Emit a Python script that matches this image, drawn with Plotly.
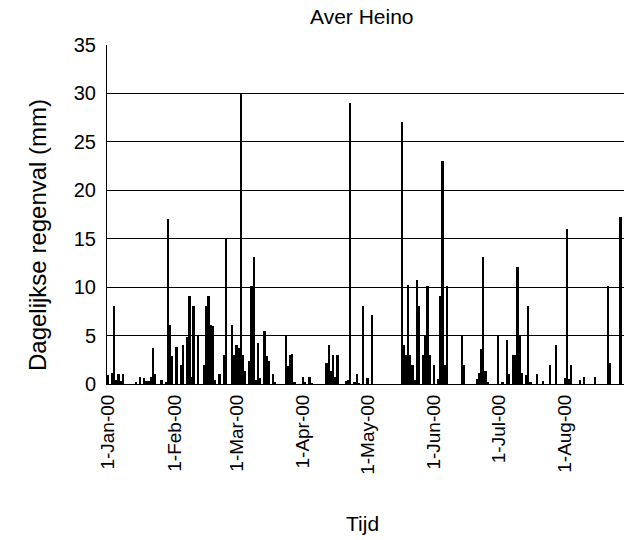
import plotly.graph_objects as go

# Daily rainfall at Heino, 2000 (mm)
dates = [
    "2000-01-01", "2000-01-03", "2000-01-04", "2000-01-05", "2000-01-06", "2000-01-07", "2000-01-08",
    "2000-01-14", "2000-01-16", "2000-01-18", "2000-01-19", "2000-01-20", "2000-01-21", "2000-01-22",
    "2000-01-23", "2000-01-26", "2000-01-28", "2000-01-29", "2000-01-30", "2000-01-31",
    "2000-02-02", "2000-02-04", "2000-02-05", "2000-02-07", "2000-02-08", "2000-02-09", "2000-02-10",
    "2000-02-12", "2000-02-15", "2000-02-16", "2000-02-17", "2000-02-18", "2000-02-19", "2000-02-20",
    "2000-02-22", "2000-02-24", "2000-02-25", "2000-02-28", "2000-02-29",
    "2000-03-01", "2000-03-02", "2000-03-03", "2000-03-04", "2000-03-05", "2000-03-07", "2000-03-08",
    "2000-03-09", "2000-03-10", "2000-03-11", "2000-03-12", "2000-03-14", "2000-03-15", "2000-03-16",
    "2000-03-18", "2000-03-19", "2000-03-24", "2000-03-25", "2000-03-26", "2000-03-27", "2000-03-28",
    "2000-04-01", "2000-04-02", "2000-04-04", "2000-04-05", "2000-04-12", "2000-04-13", "2000-04-14",
    "2000-04-15", "2000-04-16", "2000-04-17", "2000-04-21", "2000-04-22", "2000-04-23", "2000-04-25",
    "2000-04-26", "2000-04-27", "2000-04-29",
    "2000-05-01", "2000-05-03", "2000-05-17", "2000-05-18", "2000-05-19", "2000-05-20", "2000-05-21",
    "2000-05-22", "2000-05-23", "2000-05-24", "2000-05-25", "2000-05-27", "2000-05-28", "2000-05-29",
    "2000-05-30",
    "2000-06-01", "2000-06-03", "2000-06-04", "2000-06-05", "2000-06-06", "2000-06-07", "2000-06-14",
    "2000-06-15", "2000-06-21", "2000-06-22", "2000-06-23", "2000-06-24", "2000-06-25", "2000-06-26",
    "2000-07-01", "2000-07-03", "2000-07-05", "2000-07-06", "2000-07-08", "2000-07-09", "2000-07-10",
    "2000-07-11", "2000-07-12", "2000-07-14", "2000-07-15", "2000-07-16", "2000-07-19", "2000-07-22",
    "2000-07-25", "2000-07-28",
    "2000-08-01", "2000-08-02", "2000-08-03", "2000-08-04", "2000-08-08", "2000-08-10", "2000-08-15",
    "2000-08-21", "2000-08-22", "2000-08-27",
]
rain_mm = [
    0.9, 1.1, 8.1, 0.4, 1.0, 0.3, 1.0,
    0.25, 0.7, 0.65, 0.3, 0.3, 0.7, 3.7,
    1.0, 0.4, 0.2, 17.0, 6.1, 2.9,
    3.8, 2.0, 4.0, 4.9, 9.1, 0.75, 8.1,
    5.0, 2.0, 8.1, 9.1, 6.1, 6.0, 0.4,
    1.0, 3.0, 15.0, 6.1, 3.0,
    4.0, 3.7, 30.0, 3.0, 1.3, 2.4, 10.1,
    13.1, 0.4, 4.2, 0.65, 5.5, 2.9, 2.4,
    1.0, 0.25, 5.0, 1.9, 3.0, 3.1, 0.2,
    0.7, 0.25, 0.7, 0.1, 2.2, 4.0, 1.3,
    3.0, 0.75, 3.0, 0.3, 0.4, 29.0, 0.2,
    1.0, 0.1, 8.1,
    0.6, 7.1, 27.0, 4.0, 3.0, 10.2, 3.0,
    2.0, 0.4, 10.7, 8.1, 3.0, 5.0, 10.1,
    3.0,
    2.0, 0.5, 9.1, 23.0, 2.0, 10.1, 5.1,
    2.0, 0.5, 1.1, 3.6, 13.1, 1.3, 0.25,
    5.0, 0.25, 4.5, 1.0, 3.0, 3.0, 12.1,
    5.0, 1.1, 0.9, 8.1, 0.2, 1.0, 0.3,
    2.0, 4.0,
    0.6, 16.0, 0.5, 2.0, 0.4, 0.7, 0.7,
    10.1, 2.2, 17.2,
]

tick_dates = ["2000-01-01", "2000-02-01", "2000-03-01", "2000-04-01",
              "2000-05-01", "2000-06-01", "2000-07-01", "2000-08-01"]
tick_labels = ["1-Jan-00", "1-Feb-00", "1-Mar-00", "1-Apr-00",
               "1-May-00", "1-Jun-00", "1-Jul-00", "1-Aug-00"]
y_ticks = [0, 5, 10, 15, 20, 25, 30, 35]

DAY_MS = 86400000
FONT = "Liberation Sans, Arial, sans-serif"

fig = go.Figure()
fig.add_trace(go.Bar(
    x=dates,
    y=rain_mm,
    width=[0.85 * DAY_MS] * len(dates),
    marker=dict(color="#000000", line=dict(width=0)),
    hoverinfo="x+y",
))

# plot area: x 107..624 px, y 45..384 px
L, R, T, B = 107, 0, 45, 156
W, H = 624, 540
pw = W - L - R
ph = H - T - B

def px_to_paper(px, py):
    return (px - L) / pw, (H - B - py) / ph

annotations = []
tx, ty = px_to_paper(362, 17)
annotations.append(dict(text="Aver Heino", x=tx, y=ty, xref="paper", yref="paper",
                        showarrow=False, xanchor="center", yanchor="middle",
                        font=dict(family=FONT, size=21, color="black")))
lx, ly = px_to_paper(37, 235)
annotations.append(dict(text="Dagelijkse regenval (mm)", x=lx, y=ly, xref="paper", yref="paper",
                        showarrow=False, xanchor="center", yanchor="middle", textangle=-90,
                        font=dict(family=FONT, size=24, color="black")))
bx, by = px_to_paper(362, 523)
annotations.append(dict(text="Tijd", x=bx, y=by, xref="paper", yref="paper",
                        showarrow=False, xanchor="center", yanchor="middle",
                        font=dict(family=FONT, size=21, color="black")))

fig.update_layout(
    width=W, height=H,
    margin=dict(l=L, r=R, t=T, b=B, pad=0),
    paper_bgcolor="white",
    plot_bgcolor="white",
    showlegend=False,
    bargap=0,
    annotations=annotations,
    xaxis=dict(
        type="date",
        range=["1999-12-31 12:00", "2000-08-28 12:00"],
        tickmode="array",
        tickvals=tick_dates,
        ticktext=tick_labels,
        tickangle=-90,
        ticks="",
        ticklabelstandoff=2,
        showgrid=False,
        showline=True,
        linecolor="black",
        linewidth=1,
        zeroline=False,
        tickfont=dict(family=FONT, size=19, color="black"),
        fixedrange=True,
    ),
    yaxis=dict(
        range=[0, 35],
        tickmode="array",
        tickvals=y_ticks,
        ticks="",
        ticklabelstandoff=6,
        showgrid=True,
        gridcolor="black",
        gridwidth=1,
        showline=True,
        linecolor="black",
        linewidth=1,
        zeroline=False,
        tickfont=dict(family=FONT, size=20, color="black"),
        fixedrange=True,
    ),
)

fig.write_html("out.html")
